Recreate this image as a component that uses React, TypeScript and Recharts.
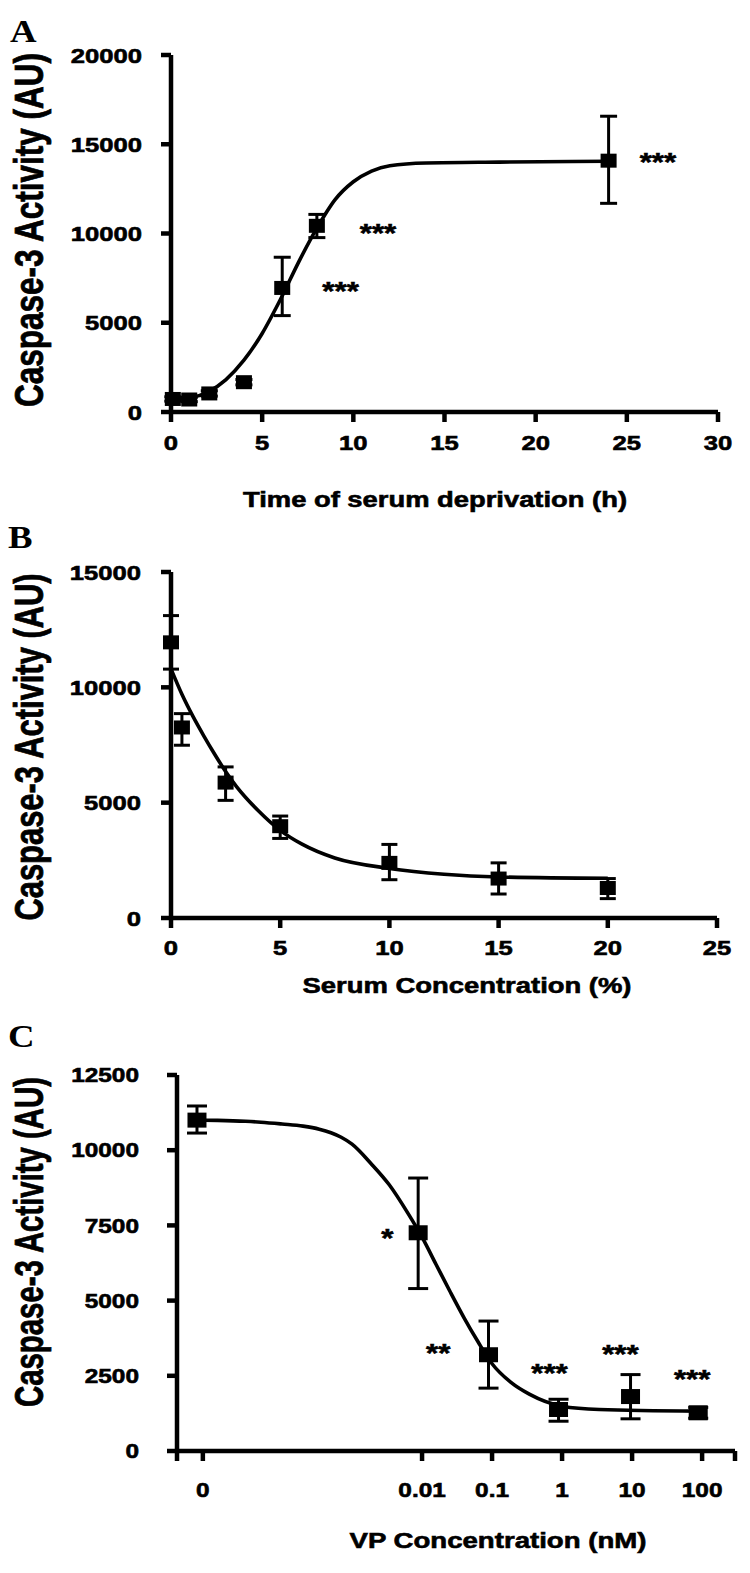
import { ComposedChart, ErrorBar, Line, Scatter, XAxis, YAxis } from "recharts";

const SANS = "'Liberation Sans', Arial, Helvetica, sans-serif";
const SERIF = "'Liberation Serif', 'Times New Roman', serif";

// ---- Panel A: time of serum deprivation (h)
const timeA = [0.1, 1, 2.1, 4, 6.1, 8, 24];
const caspA = [730, 700, 1040, 1670, 6950, 10430, 14080];
const errA: [number, number][] = [
  [120, 120],
  [120, 120],
  [150, 150],
  [150, 150],
  [1550, 1720],
  [660, 640],
  [2390, 2490],
];
const fitTimeA = [0.1, 1, 2, 3, 4, 5, 6, 7, 8, 9, 10, 11, 12, 14, 18, 24];
const fitCaspA = [700, 780, 1100, 1800, 2900, 4400, 6300, 8400, 10300, 11900, 12900, 13500, 13800, 13950, 14000, 14050];
const starsA = [
  { x: 26.7, y: 14310, t: "***" },
  { x: 11.35, y: 10370, t: "***" },
  { x: 9.3, y: 7080, t: "***" },
];
const xTicksA = [0, 5, 10, 15, 20, 25, 30];
const yTicksA = [0, 5000, 10000, 15000, 20000];

// ---- Panel B: serum concentration (%)
const serumB = [0, 0.5, 2.5, 5, 10, 15, 20];
const caspB = [11950, 8260, 5870, 3980, 2390, 1710, 1300];
const errB: [number, number][] = [
  [1160, 1160],
  [770, 600],
  [770, 680],
  [530, 440],
  [730, 800],
  [670, 680],
  [460, 410],
];
const fitSerumB = [0, 0.5, 1, 1.5, 2, 2.5, 3, 4, 5, 6, 7.5, 10, 12.5, 15, 20];
const fitCaspB = [10800, 9700, 8750, 7900, 7100, 6350, 5700, 4650, 3800, 3200, 2600, 2150, 1900, 1780, 1720];
const xTicksB = [0, 5, 10, 15, 20, 25];
const yTicksB = [0, 5000, 10000, 15000];

// ---- Panel C: VP concentration (nM), log axis; "0" dose drawn at X_ZERO
const X_MIN = 3.162e-6;
const X_MAX = 295;
const X_ZERO = 7.4e-6;
const vpC = [6.1e-6, 0.0088, 0.089, 0.89, 9.5, 88];
const caspC = [11000, 7255, 3200, 1380, 1810, 1270];
const errC: [number, number][] = [
  [430, 470],
  [1855, 1820],
  [1110, 1120],
  [390, 340],
  [740, 730],
  [180, 180],
];
const fitVpC = [
  6.1e-6, 1.2e-5, 3e-5, 5e-5, 1e-4, 2e-4, 3.4e-4, 5e-4, 7e-4, 1e-3, 1.86e-3, 3.4e-3, 6.3e-3, 0.01, 0.0158, 0.025,
  0.04, 0.063, 0.1, 0.186, 0.34, 1, 3.4, 88,
];
const fitCaspC = [
  11000, 10990, 10960, 10930, 10870, 10800, 10700, 10580, 10430, 10200, 9560, 8850, 7900, 7110, 6210, 5310,
  4420, 3630, 2900, 2280, 1890, 1490, 1380, 1325,
];
const starsC = [
  { x: 0.0032, y: 7280, t: "*" },
  { x: 0.017, y: 3460, t: "**" },
  { x: 0.66, y: 2790, t: "***" },
  { x: 6.8, y: 3420, t: "***" },
  { x: 72, y: 2590, t: "***" },
];
const xTicksC = [X_MIN, X_ZERO, 0.01, 0.1, 1, 10, 100, X_MAX];
const xLabelsC = ["", "0", "0.01", "0.1", "1", "10", "100", ""];
const yTicksC = [0, 2500, 5000, 7500, 10000, 12500];

const toPoints = (xs: number[], ys: number[], errs?: [number, number][]) =>
  xs.map((x, i) => ({ x, y: ys[i], err: errs ? errs[i] : undefined }));

const AXIS = { stroke: "#000", strokeWidth: 4.5 };

// bold text with a thin outline, to get the heavy print look
const heavy = { fontWeight: "bold", fontFamily: SANS, fill: "#000", stroke: "#000", strokeWidth: 0.6 } as const;

function YTick(props: any) {
  const { x, y, payload, fs, sx } = props;
  return (
    <text transform={`translate(${x},${y}) scale(${sx},1)`} textAnchor="end" dy="0.36em" fontSize={fs} {...heavy}>
      {payload.value}
    </text>
  );
}

function XTick(props: any) {
  const { x, y, payload, fs, sx, labels, ticks } = props;
  const label = labels ? labels[ticks.indexOf(payload.value)] : payload.value;
  return (
    <text transform={`translate(${x},${y}) scale(${sx},1)`} textAnchor="middle" dy="0.71em" fontSize={fs} {...heavy}>
      {label}
    </text>
  );
}

const squareShape = (w: number, h: number) => (p: any) =>
  <rect x={p.cx - w / 2} y={p.cy - h / 2} width={w} height={h} fill="#000" />;

const starShape = (p: any) => (
  <text
    transform={`translate(${p.cx},${p.cy}) scale(1.2,1)`}
    textAnchor="middle"
    dy="0.57em"
    fontSize={26}
    {...heavy}
  >
    {p.payload.t}
  </text>
);

function Panel(props: {
  top: number;
  height: number;
  margin: { top: number; right: number; left: number; bottom: number };
  yWidth: number;
  xHeight: number;
  xDomain: [number, number];
  xTicks: number[];
  xLabels?: string[];
  log?: boolean;
  yDomain: [number, number];
  yTicks: number[];
  yMargin: number;
  xMargin: number;
  fs: number;
  fit: { x: number; y: number }[];
  points: { x: number; y: number; err?: [number, number] }[];
  stars: { x: number; y: number; t: string }[];
  marker: [number, number];
  cap: number;
}) {
  const p = props;
  return (
    <div style={{ position: "absolute", left: 0, top: p.top, width: 750, height: p.height }}>
      <ComposedChart width={750} height={p.height} margin={p.margin}>
        <XAxis
          type="number"
          dataKey="x"
          scale={p.log ? "log" : "linear"}
          domain={p.xDomain}
          ticks={p.xTicks}
          interval={0}
          height={p.xHeight}
          axisLine={AXIS}
          tickLine={AXIS}
          tickSize={10}
          tickMargin={p.xMargin}
          tick={(t: any) => <XTick {...t} fs={p.fs} sx={1.22} labels={p.xLabels} ticks={p.xTicks} />}
        />
        <YAxis
          type="number"
          domain={p.yDomain}
          ticks={p.yTicks}
          interval={0}
          width={p.yWidth}
          axisLine={AXIS}
          tickLine={AXIS}
          tickSize={10}
          tickMargin={p.yMargin}
          tick={(t: any) => <YTick {...t} fs={p.fs} sx={1.22} />}
        />
        <Line
          data={p.fit}
          dataKey="y"
          type="monotone"
          stroke="#000"
          strokeWidth={3.6}
          dot={false}
          activeDot={false}
          isAnimationActive={false}
        />
        <Scatter data={p.points} dataKey="y" shape={squareShape(p.marker[0], p.marker[1])} isAnimationActive={false}>
          <ErrorBar dataKey="err" direction="y" width={p.cap} strokeWidth={3} stroke="#000" />
        </Scatter>
        <Scatter data={p.stars} dataKey="y" shape={starShape} isAnimationActive={false} />
      </ComposedChart>
    </div>
  );
}

function YTitle({ cx, cy, length }: { cx: number; cy: number; length: number }) {
  return (
    <text
      transform={`translate(${cx},${cy}) scale(1.3,1) rotate(-90)`}
      textAnchor="middle"
      dominantBaseline="central"
      fontSize={31}
      textLength={length}
      lengthAdjust="spacingAndGlyphs"
      {...heavy}
    >
      Caspase-3 Activity (AU)
    </text>
  );
}

function XTitle({ cx, cy, width, text }: { cx: number; cy: number; width: number; text: string }) {
  return (
    <text
      x={cx}
      y={cy}
      textAnchor="middle"
      dominantBaseline="central"
      fontSize={22}
      textLength={width}
      lengthAdjust="spacingAndGlyphs"
      {...heavy}
    >
      {text}
    </text>
  );
}

function Letter({ x, y, t }: { x: number; y: number; t: string }) {
  return (
    <text transform={`translate(${x},${y}) scale(1.15,1)`} fontSize={32} fontWeight="bold" fontFamily={SERIF} fill="#000">
      {t}
    </text>
  );
}

export default function App() {
  return (
    <div style={{ position: "absolute", left: 0, top: 0, width: 750, height: 1573, background: "#fff" }}>
      <Panel
        top={0}
        height={520}
        margin={{ top: 55, right: 32, left: 0, bottom: 0 }}
        yWidth={171}
        xHeight={108}
        xDomain={[0, 30]}
        xTicks={xTicksA}
        yDomain={[0, 20000]}
        yTicks={yTicksA}
        yMargin={19}
        xMargin={13}
        fs={21}
        fit={toPoints(fitTimeA, fitCaspA)}
        points={toPoints(timeA, caspA, errA)}
        stars={starsA}
        marker={[16, 14]}
        cap={8.5}
      />
      <Panel
        top={520}
        height={520}
        margin={{ top: 52, right: 33, left: 0, bottom: 0 }}
        yWidth={171}
        xHeight={122}
        xDomain={[0, 25]}
        xTicks={xTicksB}
        yDomain={[0, 15000]}
        yTicks={yTicksB}
        yMargin={20}
        xMargin={12}
        fs={21}
        fit={toPoints(fitSerumB, fitCaspB)}
        points={toPoints(serumB, caspB, errB)}
        stars={[]}
        marker={[16, 14]}
        cap={8}
      />
      <Panel
        top={1040}
        height={533}
        margin={{ top: 35, right: 15, left: 0, bottom: 0 }}
        yWidth={177}
        xHeight={122}
        xDomain={[X_MIN, X_MAX]}
        xTicks={xTicksC}
        xLabels={xLabelsC}
        log
        yDomain={[0, 12500]}
        yTicks={yTicksC}
        yMargin={28}
        xMargin={22}
        fs={20}
        fit={toPoints(fitVpC, fitCaspC)}
        points={toPoints(vpC, caspC, errC)}
        stars={starsC}
        marker={[19, 15]}
        cap={10}
      />
      <svg width={750} height={1573} style={{ position: "absolute", left: 0, top: 0, pointerEvents: "none" }}>
        <Letter x={10} y={42} t="A" />
        <Letter x={8} y={548} t="B" />
        <Letter x={8} y={1047} t="C" />
        <YTitle cx={29} cy={230} length={354} />
        <YTitle cx={29} cy={747} length={347} />
        <YTitle cx={29} cy={1242} length={330} />
        <XTitle cx={435} cy={499} width={384} text="Time of serum deprivation (h)" />
        <XTitle cx={467} cy={985} width={329} text="Serum Concentration (%)" />
        <XTitle cx={498} cy={1540} width={297} text="VP Concentration (nM)" />
      </svg>
    </div>
  );
}
